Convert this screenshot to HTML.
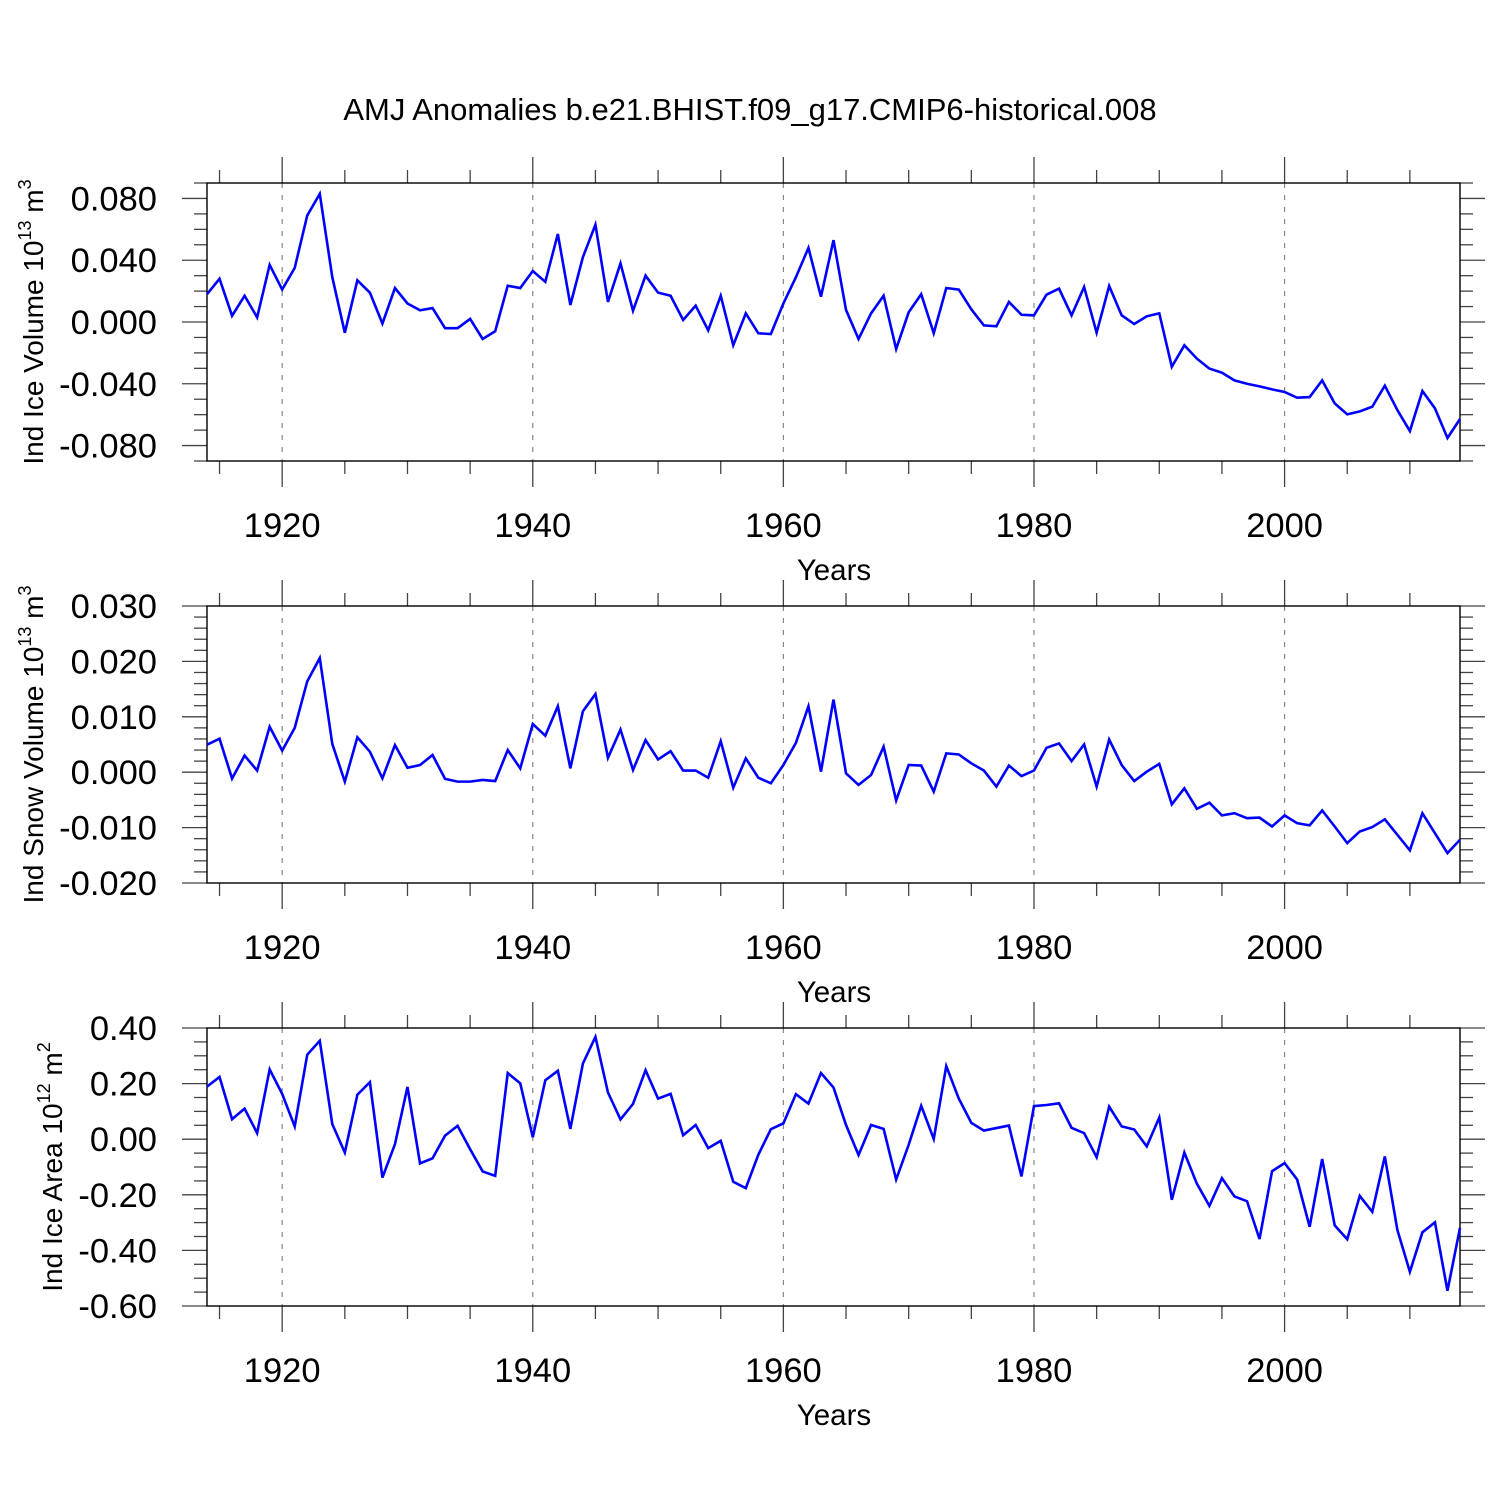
<!DOCTYPE html>
<html><head><meta charset="utf-8"><style>
html,body{margin:0;padding:0;background:#fff;}
svg{display:block;font-family:"Liberation Sans",Arial,sans-serif;}
</style></head><body>
<svg id="chart" width="1500" height="1500" viewBox="0 0 1500 1500" xmlns="http://www.w3.org/2000/svg">
<rect x="0" y="0" width="1500" height="1500" fill="#fff"/>
<text x="750" y="120" font-size="31" text-anchor="middle">AMJ Anomalies b.e21.BHIST.f09_g17.CMIP6-historical.008</text>
<g id="plots"></g>
</svg>
<script>
const years = [];
for (let y = 1914; y <= 2014; y++) years.push(y);
const xTickLabels = ["1920","1940","1960","1980","2000"];
const xTickYears = [1920,1940,1960,1980,2000];

const iceVolume = [0.018,0.028,0.004,0.017,0.003,0.037,0.021,0.035,0.069,0.083,0.029,-0.007,0.027,0.019,-0.001,0.022,0.012,0.0076,0.009,-0.004,-0.004,0.002,-0.011,-0.006,0.0235,0.022,0.033,0.026,0.057,0.011,0.042,0.063,0.013,0.038,0.0073,0.030,0.019,0.017,0.0013,0.0106,-0.0054,0.017,-0.015,0.0056,-0.0073,-0.0078,0.012,0.029,0.048,0.0164,0.053,0.0078,-0.011,0.0056,0.017,-0.0175,0.0063,0.018,-0.0073,0.022,0.021,0.0082,-0.0022,-0.0028,0.013,0.0047,0.0043,0.0177,0.0216,0.0043,0.0227,-0.0069,0.0233,0.0043,-0.0013,0.0037,0.0056,-0.029,-0.0151,-0.0237,-0.0302,-0.0328,-0.0378,-0.040,-0.0417,-0.0436,-0.0453,-0.049,-0.0486,-0.0378,-0.0527,-0.0598,-0.0579,-0.0548,-0.0412,-0.057,-0.0706,-0.0447,-0.0559,-0.0751,-0.0628];
const snowVolume = [0.00497,0.00605,-0.00114,0.0030,0.0003,0.0082,0.0039,0.0080,0.0164,0.0206,0.0051,-0.0017,0.0063,0.0037,-0.0011,0.0049,0.0008,0.0013,0.0031,-0.0012,-0.0017,-0.0017,-0.0014,-0.0016,0.0040,0.0007,0.0087,0.0066,0.0119,0.0007,0.0110,0.0141,0.0026,0.0077,0.0004,0.0058,0.0023,0.0038,0.0003,0.0003,-0.0010,0.0056,-0.0028,0.0025,-0.0010,-0.0020,0.0013,0.0053,0.0119,0.0001,0.0131,-0.0002,-0.0023,-0.0005,0.0046,-0.0051,0.0013,0.0012,-0.0035,0.0034,0.0032,0.0016,0.0003,-0.0026,0.0012,-0.0007,0.0003,0.0044,0.0052,0.0020,0.0050,-0.0026,0.0059,0.0013,-0.0016,0.0001,0.0015,-0.0058,-0.0029,-0.0066,-0.0055,-0.0078,-0.0074,-0.0083,-0.0082,-0.0098,-0.0078,-0.0092,-0.0096,-0.0069,-0.0098,-0.0128,-0.0107,-0.0099,-0.0085,-0.0113,-0.0141,-0.0074,-0.0110,-0.0146,-0.0122];
const iceArea = [0.189,0.224,0.072,0.110,0.022,0.251,0.163,0.046,0.304,0.354,0.054,-0.048,0.160,0.205,-0.138,-0.018,0.188,-0.087,-0.069,0.013,0.048,-0.036,-0.116,-0.132,0.238,0.201,0.007,0.212,0.246,0.037,0.272,0.368,0.168,0.071,0.127,0.248,0.146,0.163,0.014,0.051,-0.032,-0.006,-0.153,-0.176,-0.056,0.036,0.057,0.162,0.128,0.238,0.186,0.051,-0.057,0.051,0.037,-0.145,-0.020,0.120,0.001,0.263,0.146,0.059,0.031,0.040,0.049,-0.134,0.119,0.123,0.129,0.041,0.022,-0.065,0.117,0.046,0.035,-0.026,0.078,-0.218,-0.048,-0.160,-0.240,-0.140,-0.206,-0.223,-0.359,-0.115,-0.086,-0.145,-0.315,-0.071,-0.310,-0.360,-0.204,-0.261,-0.062,-0.326,-0.477,-0.335,-0.299,-0.545,-0.319];

const p1TickLabels = ["0.080","0.040","0.000","-0.040","-0.080"];
const p1TickValues = [0.08,0.04,0,-0.04,-0.08];
const p2TickLabels = ["0.030","0.020","0.010","0.000","-0.010","-0.020"];
const p2TickValues = [0.03,0.02,0.01,0,-0.01,-0.02];
const p3TickLabels = ["0.40","0.20","0.00","-0.20","-0.40","-0.60"];
const p3TickValues = [0.4,0.2,0,-0.2,-0.4,-0.6];

const NS = "http://www.w3.org/2000/svg";
const root = document.getElementById("plots");
const X0 = 207, X1 = 1460, YMIN = 1914, YMAX = 2014;
function xs(yr){ return X0 + (yr - YMIN) / (YMAX - YMIN) * (X1 - X0); }
function mk(tag, attrs, parent){
  const e = document.createElementNS(NS, tag);
  for (const k in attrs) e.setAttribute(k, attrs[k]);
  (parent || root).appendChild(e);
  return e;
}

const panels = [
  {name:"ice-volume", top:183, bot:461, vmin:-0.09, vmax:0.09, minor:0.01, data:iceVolume, tl:p1TickLabels, tv:p1TickValues, title:["Ind Ice Volume 10","13"," m","3"], tx:33},
  {name:"snow-volume", top:606, bot:883, vmin:-0.02, vmax:0.03, minor:0.002, data:snowVolume, tl:p2TickLabels, tv:p2TickValues, title:["Ind Snow Volume 10","13"," m","3"], tx:33},
  {name:"ice-area", top:1028, bot:1306, vmin:-0.6, vmax:0.4, minor:0.05, data:iceArea, tl:p3TickLabels, tv:p3TickValues, title:["Ind Ice Area 10","12"," m","2"], tx:52}
];

panels.forEach(p => {
  const g = mk("g", {});
  
  
  const ys = v => p.bot - (v - p.vmin) / (p.vmax - p.vmin) * (p.bot - p.top);
  xTickYears.forEach(yr => {
    const l = mk("line", {x1:xs(yr), x2:xs(yr), y1:p.top, y2:p.bot, stroke:"#888", "stroke-width":1.2, "stroke-dasharray":"5,7"}, g);
    
    
  });
  for (let yr = 1915; yr <= 2010; yr += 5) {
    const major = yr % 20 === 0;
    const len = major ? 26 : 13;
    mk("line", {x1:xs(yr), x2:xs(yr), y1:p.top, y2:p.top - len, stroke:"#444", "stroke-width":1.3}, g);
    mk("line", {x1:xs(yr), x2:xs(yr), y1:p.bot, y2:p.bot + len, stroke:"#444", "stroke-width":1.3}, g);
  }
  const n = Math.round((p.vmax - p.vmin) / p.minor);
  for (let i = 0; i <= n; i++) {
    const v = p.vmin + i * p.minor;
    const isMajor = p.tv.some(t => Math.abs(t - v) < p.minor / 10);
    const len = isMajor ? 25 : 13;
    const y = ys(v);
    mk("line", {x1:X0, x2:X0 - len, y1:y, y2:y, stroke:"#444", "stroke-width":1.3}, g);
    mk("line", {x1:X1, x2:X1 + len, y1:y, y2:y, stroke:"#444", "stroke-width":1.3}, g);
  }
  p.tl.forEach((lab, i) => {
    const t = mk("text", {x:157, y:ys(p.tv[i]) + 12, "font-size":34.5, "text-anchor":"end"}, g);
    t.textContent = lab;
    
    
  });
  xTickLabels.forEach((lab, i) => {
    const t = mk("text", {x:xs(xTickYears[i]), y:p.bot + 76, "font-size":34.5, "text-anchor":"middle"}, g);
    t.textContent = lab;
    
    
  });
  const xt = mk("text", {x:834, y:p.bot + 119, "font-size":29.5, "text-anchor":"middle"}, g);
  xt.textContent = "Years";
  
  
  const cy = (p.top + p.bot) / 2;
  const yt = mk("text", {x:0, y:0, "font-size":28, "text-anchor":"middle", transform:`translate(${p.tx + 10},${cy}) rotate(-90)`}, g);
  
  
  const s1 = mk("tspan", {}, yt); s1.textContent = p.title[0];
  const s2 = mk("tspan", {dy:-12, "font-size":18}, yt); s2.textContent = p.title[1];
  const s3 = mk("tspan", {dy:12}, yt); s3.textContent = p.title[2];
  const s4 = mk("tspan", {dy:-12, "font-size":18}, yt); s4.textContent = p.title[3];
  const fr = mk("rect", {x:X0, y:p.top, width:X1 - X0, height:p.bot - p.top, fill:"none", stroke:"#000", "stroke-width":1.4}, g);
  
  
  const pts = p.data.map((v, i) => xs(years[i]).toFixed(2) + "," + ys(v).toFixed(2)).join(" ");
  const pl = mk("polyline", {points:pts, fill:"none", stroke:"#0000ff", "stroke-width":2.6, "stroke-linejoin":"miter"}, g);
  
  
});
</script>
</body></html>
